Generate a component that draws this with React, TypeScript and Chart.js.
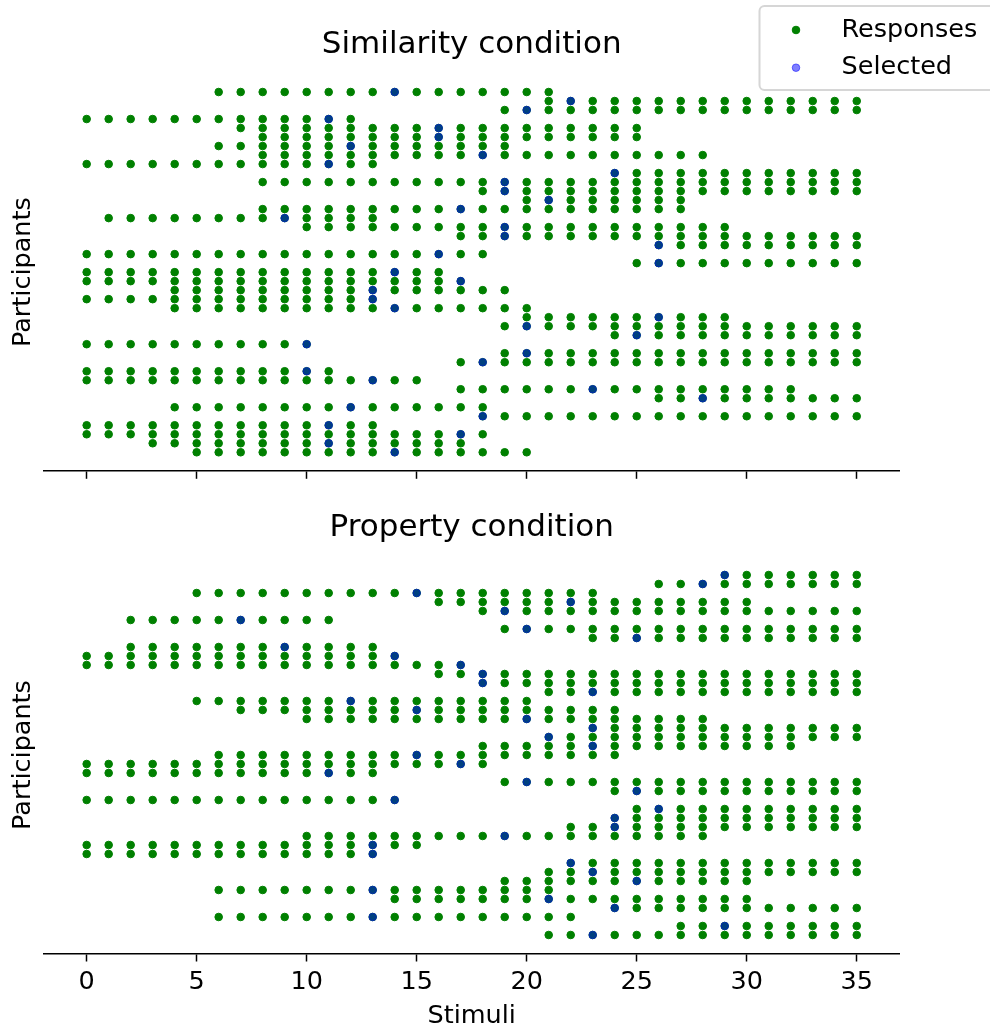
import { useEffect, useRef } from 'react';
import { Chart, registerables } from 'chart.js';

Chart.register(...registerables);

const FONT = '"DejaVu Sans", "Liberation Sans", sans-serif';

// Stimulus axis ticks (shared by both panels)
const STIMULUS_TICKS = [0, 5, 10, 15, 20, 25, 30, 35];

const SERIES_LABELS = ['Responses', 'Selected'];
const PANEL_TITLES = ['Similarity condition', 'Property condition'];
const AXIS_LABELS = { x: 'Stimuli', y: 'Participants' };

// One string per participant (top to bottom), one character per stimulus 0-35,
// grouped in fives: '.' = no response, 'o' = response, 'x' = response that was selected.
const SIMILARITY_ROWS = [
  '..... .oooo oooox ooooo oo... ..... ..... .',
  '..... ..... ..... ..... .oxoo ooooo ooooo o',
  '..... ..... ..... ....o xoooo ooooo ooooo o',
  'ooooo ooooo oxo.. ..... ..... ..... ..... .',
  '..... ..ooo ooooo oxooo ooooo o.... ..... .',
  '..... ...oo ooooo oxooo ooooo o.... ..... .',
  '..... .oooo ooxoo ooooo ..... ..... ..... .',
  '..... ...oo ooooo oooxo ooooo oooo. ..... .',
  'ooooo ooooo oxoo. ..... ..... ..... ..... .',
  '..... ..... ..... ..... ....x ooooo ooooo o',
  '..... ...oo ooooo oooox ooooo ooooo ooooo o',
  '..... ..... ..... ...ox ooooo ooooo ooooo o',
  '..... ..... ..... ..... oxooo ooo.. ..... .',
  '..... ...oo ooooo ooxoo ooooo ooo.. ..... .',
  '.oooo oooox oooo. ..... ..... ..... ..... .',
  '..... ..... ooooo oooox ooooo ooooo ..... .',
  '..... ..... ..... ..oox ooooo ooooo ooooo o',
  '..... ..... ..... ..... ..... .xooo ooooo o',
  'ooooo ooooo ooooo oxoo. ..... ..... ..... .',
  '..... ..... ..... ..... ..... oxooo ooooo o',
  'ooooo ooooo oooox oo... ..... ..... ..... .',
  'ooooo ooooo ooooo oox.. ..... ..... ..... .',
  '....o ooooo oooxo ooooo ..... ..... ..... .',
  'ooooo ooooo ooox. ..... ..... ..... ..... .',
  '....o ooooo oooox ooooo o.... ..... ..... .',
  '..... ..... ..... ..... ooooo oxooo ..... .',
  '..... ..... ..... ....o xoooo ooooo ooooo o',
  '..... ..... ..... ..... ....o xoooo ooooo o',
  'ooooo ooooo x.... ..... ..... ..... ..... .',
  '..... ..... ..... ....o xoooo ooooo ooooo o',
  '..... ..... ..... ..oxo ooooo ooooo ooooo o',
  'ooooo ooooo xo... ..... ..... ..... ..... .',
  'ooooo ooooo oooxo o.... ..... ..... ..... .',
  '..... ..... ..... ..ooo oooxo ooooo ooo.. .',
  '..... ..... ..... ..... ..... .ooxo ooooo o',
  '....o ooooo ooxoo oooo. ..... ..... ..... .',
  '..... ..... ..... ...xo ooooo ooooo ooooo o',
  'ooooo ooooo oxoo. ..... ..... ..... ..... .',
  'ooooo ooooo ooooo ooxo. ..... ..... ..... .',
  '...oo ooooo oxooo ooo.. ..... ..... ..... .',
  '..... ooooo oooox ooooo o.... ..... ..... .',
];

const PROPERTY_ROWS = [
  '..... ..... ..... ..... ..... ....x ooooo o',
  '..... ..... ..... ..... ..... .ooxo ooooo o',
  '..... ooooo ooooo xoooo oooo. ..... ..... .',
  '..... ..... ..... .oooo ooxoo ooooo o.... .',
  '..... ..... ..... ...ox ooooo ooooo ooooo o',
  '..ooo ooxoo oo... ..... ..... ..... ..... .',
  '..... ..... ..... ....o xoooo ooooo ooooo o',
  '..... ..... ..... ..... ...oo xoooo ooooo o',
  '..ooo oooox oooo. ..... ..... ..... ..... .',
  'ooooo ooooo oooox ..... ..... ..... ..... .',
  'ooooo ooooo ooooo oox.. ..... ..... ..... .',
  '..... ..... ..... .ooxo ooooo ooooo ooooo o',
  '..... ..... ..... ...xo ooooo ooooo ooooo o',
  '..... ..... ..... ..... .ooxo ooooo ooooo o',
  '..... ooooo ooxoo ooooo o.... ..... ..... .',
  '..... ..ooo ooooo xoooo ooooo ..... ..... .',
  '..... ..... ooooo ooooo xoooo oooo. ..... .',
  '..... ..... ..... ..... ...xo ooooo ooooo o',
  '..... ..... ..... ..... .xooo ooooo ooooo o',
  '..... ..... ..... ...oo oooxo ooooo ooo.. .',
  '..... .oooo ooooo xoooo ooooo ..... ..... .',
  'ooooo ooooo ooooo ooxo. ..... ..... ..... .',
  'ooooo ooooo oxoo. ..... ..... ..... ..... .',
  '..... ..... ..... ....o xoooo ooooo ooooo o',
  '..... ..... ..... ..... ....o xoooo ooooo o',
  'ooooo ooooo oooox ..... ..... ..... ..... .',
  '..... ..... ..... ..... ..... oxooo ooooo o',
  '..... ..... ..... ..... ....x ooooo ooooo o',
  '..... ..... ..... ..... ..oox ooooo ooooo o',
  '..... ..... ooooo oooox ooooo oooo. ..... .',
  'ooooo ooooo oooxo o.... ..... ..... ..... .',
  'ooooo ooooo ooox. ..... ..... ..... ..... .',
  '..... ..... ..... ..... ..xoo ooooo ooooo o',
  '..... ..... ..... ..... .ooxo ooooo ooooo o',
  '..... ..... ..... ....o ooooo xoooo o.... .',
  '..... .oooo oooxo ooooo oo... ..... ..... .',
  '..... ..... ....o ooooo oxooo ooooo o.... .',
  '..... ..... ..... ..... ....x ooooo ooooo o',
  '..... .oooo oooxo ooooo ooo.. ..... ..... .',
  '..... ..... ..... ..... ..... ..oox ooooo o',
  '..... ..... ..... ..... .ooxo ooooo ooooo o',
];

const RESPONSE_COLOR = 'rgb(0, 128, 0)';
const SELECTED_COLOR = 'rgba(0, 0, 255, 0.5)';
const POINT_RADIUS = 3.8;
const POINT_BORDER = 1;

// axis limits include a small margin around the data
const X_LIMITS = { min: -1.944, max: 36.944 };
const Y_LIMITS = { min: -2.056, max: 42.056 };

type Pt = { x: number; y: number };

function toPoints(rows: string[]) {
  const responses: Pt[] = [];
  const selected: Pt[] = [];
  rows.forEach((row, participant) => {
    const cells = row.replace(/ /g, '').split('');
    cells.forEach((c, stimulus) => {
      if (c !== '.') responses.push({ x: stimulus, y: participant });
      if (c === 'x') selected.push({ x: stimulus, y: participant });
    });
  });
  return { responses, selected };
}

function drawDot(ctx: CanvasRenderingContext2D, x: number, y: number, fill: string) {
  ctx.beginPath();
  ctx.arc(x, y, POINT_RADIUS, 0, Math.PI * 2);
  ctx.fillStyle = fill;
  ctx.fill();
  ctx.lineWidth = POINT_BORDER;
  ctx.strokeStyle = fill;
  ctx.stroke();
}

function roundedRect(ctx: CanvasRenderingContext2D, x: number, y: number, w: number, h: number, r: number) {
  ctx.beginPath();
  ctx.moveTo(x + r, y);
  ctx.lineTo(x + w - r, y);
  ctx.arcTo(x + w, y, x + w, y + r, r);
  ctx.lineTo(x + w, y + h - r);
  ctx.arcTo(x + w, y + h, x + w - r, y + h, r);
  ctx.lineTo(x + r, y + h);
  ctx.arcTo(x, y + h, x, y + h - r, r);
  ctx.lineTo(x, y + r);
  ctx.arcTo(x, y, x + r, y, r);
  ctx.closePath();
}

// Panel title, rotated y label and (optionally) the legend
function panelDecorations(title: string, withLegend: boolean) {
  return {
    id: 'panelDecorations',
    afterDraw(chart: any) {
      const ctx: CanvasRenderingContext2D = chart.ctx;
      const { left, right, top, bottom } = chart.chartArea;
      ctx.save();
      ctx.fillStyle = '#000';
      ctx.textAlign = 'center';
      ctx.textBaseline = 'alphabetic';
      ctx.font = `31px ${FONT}`;
      ctx.fillText(title, (left + right) / 2, top - 20.2);

      ctx.font = `25.5px ${FONT}`;
      ctx.translate(30, (top + bottom) / 2);
      ctx.rotate(-Math.PI / 2);
      ctx.fillText(AXIS_LABELS.y, 0, 0);
      ctx.restore();

      if (withLegend) {
        ctx.save();
        roundedRect(ctx, 759.5, 6, 260, 84, 5);
        ctx.fillStyle = 'rgba(255, 255, 255, 0.8)';
        ctx.fill();
        ctx.lineWidth = 2;
        ctx.strokeStyle = '#d6d6d6';
        ctx.stroke();
        const entries = chart.data.datasets.map((d: any) => ({ label: d.label, color: d.backgroundColor }));
        const rows = [
          { markerY: 30, textY: 36.7 },
          { markerY: 67.7, textY: 74 },
        ];
        entries.forEach((e: any, i: number) => {
          drawDot(ctx, 796, rows[i].markerY, e.color);
          ctx.fillStyle = '#000';
          ctx.font = `25.5px ${FONT}`;
          ctx.textAlign = 'left';
          ctx.textBaseline = 'alphabetic';
          ctx.fillText(e.label, 841.5, rows[i].textY);
        });
        ctx.restore();
      }
    },
  };
}

function buildChart(
  canvas: HTMLCanvasElement,
  rows: string[],
  title: string,
  opts: { padTop: number; xAxisHeight: number; showTickLabels: boolean; withLegend: boolean }
) {
  const { responses, selected } = toPoints(rows);
  return new Chart(canvas, {
    type: 'scatter',
    data: {
      datasets: [
        {
          label: SERIES_LABELS[0],
          data: responses,
          backgroundColor: RESPONSE_COLOR,
          borderColor: RESPONSE_COLOR,
          pointRadius: POINT_RADIUS,
          pointBorderWidth: POINT_BORDER,
          order: 1,
          clip: false as any,
        },
        {
          label: SERIES_LABELS[1],
          data: selected,
          backgroundColor: SELECTED_COLOR,
          borderColor: SELECTED_COLOR,
          pointRadius: POINT_RADIUS,
          pointBorderWidth: POINT_BORDER,
          order: 0,
          clip: false as any,
        },
      ],
    },
    options: {
      animation: false,
      responsive: false,
      devicePixelRatio: 1,
      events: [],
      layout: { padding: { left: 43.9, right: 90.5, top: opts.padTop, bottom: 0 } },
      plugins: {
        legend: { display: false },
        tooltip: { enabled: false },
        title: { display: false },
      },
      scales: {
        x: {
          type: 'linear',
          position: 'bottom',
          min: X_LIMITS.min,
          max: X_LIMITS.max,
          afterBuildTicks: (scale: any) => {
            scale.ticks = STIMULUS_TICKS.map((v) => ({ value: v }));
          },
          afterFit: (scale: any) => {
            scale.height = opts.xAxisHeight;
          },
          grid: {
            display: true,
            drawOnChartArea: false,
            drawTicks: true,
            tickLength: 8,
            tickWidth: 1.5,
            tickColor: '#000',
            color: '#000',
          },
          border: { display: true, color: '#000', width: 1.5 },
          ticks: {
            autoSkip: false,
            maxRotation: 0,
            padding: 5.7,
            color: '#000',
            font: { family: FONT, size: 25.5 },
            callback: (v: any) => (opts.showTickLabels ? String(v) : ''),
          },
          title: {
            display: opts.showTickLabels,
            text: AXIS_LABELS.x,
            color: '#000',
            font: { family: FONT, size: 25.5 },
            padding: { top: 0, bottom: 0 },
          },
        },
        y: {
          type: 'linear',
          display: false,
          reverse: true,
          min: Y_LIMITS.min,
          max: Y_LIMITS.max,
        },
      },
    },
    plugins: [panelDecorations(title, opts.withLegend)],
  } as any);
}

export default function App() {
  const topRef = useRef<HTMLCanvasElement>(null);
  const bottomRef = useRef<HTMLCanvasElement>(null);

  useEffect(() => {
    if (!topRef.current || !bottomRef.current) return;
    const top = buildChart(topRef.current, SIMILARITY_ROWS, PANEL_TITLES[0], {
      padTop: 73.5,
      xAxisHeight: 29.2,
      showTickLabels: false,
      withLegend: true,
    });
    const bottom = buildChart(bottomRef.current, PROPERTY_ROWS, PANEL_TITLES[1], {
      padTop: 56.5,
      xAxisHeight: 78.5,
      showTickLabels: true,
      withLegend: false,
    });
    return () => {
      top.destroy();
      bottom.destroy();
    };
  }, []);

  return (
    <div
      style={{
        position: 'absolute',
        left: 0,
        top: 0,
        width: 990,
        height: 1032,
        overflow: 'hidden',
        background: '#fff',
      }}
    >
      <canvas
        ref={topRef}
        width={990}
        height={500}
        style={{ position: 'absolute', left: 0, top: 0, width: 990, height: 500 }}
      />
      <canvas
        ref={bottomRef}
        width={990}
        height={532}
        style={{ position: 'absolute', left: 0, top: 500, width: 990, height: 532 }}
      />
    </div>
  );
}
